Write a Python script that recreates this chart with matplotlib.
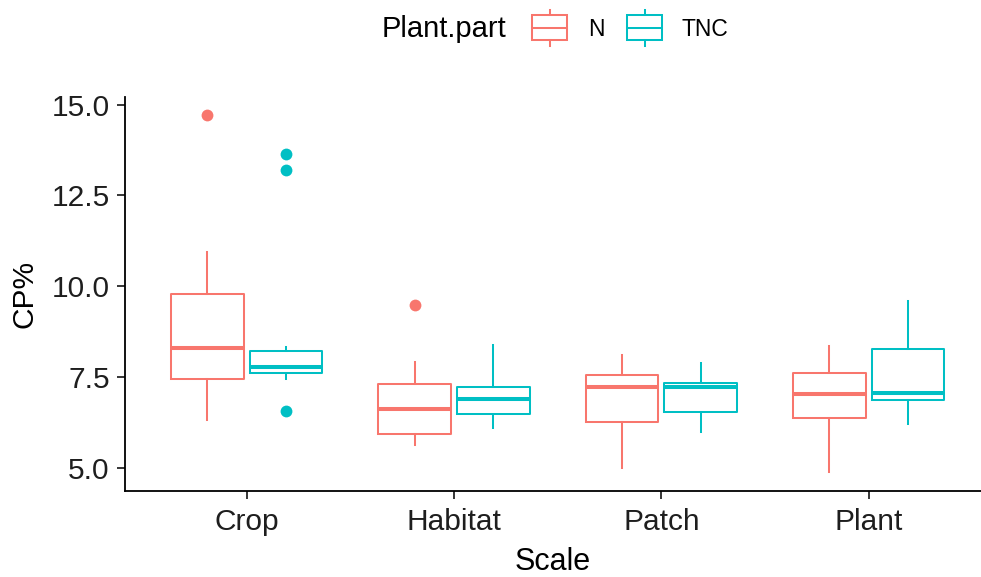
import matplotlib
matplotlib.use('Agg')
import matplotlib.pyplot as plt
from matplotlib.patches import Rectangle
from matplotlib.lines import Line2D

plt.rcParams['font.family'] = ['Liberation Sans', 'DejaVu Sans']

scales = ['Crop', 'Habitat', 'Patch', 'Plant']
parts = ['N', 'TNC']
colors = {'N': '#F8766D', 'TNC': '#00BFC4'}

# five-number summaries: whisker low, q1, median, q3, whisker high
n_stats = [
    [6.30, 7.45, 8.29, 9.79, 10.94],
    [5.63, 5.92, 6.61, 7.30, 7.90],
    [4.98, 6.26, 7.21, 7.56, 8.11],
    [4.88, 6.36, 7.04, 7.61, 8.34],
]
tnc_stats = [
    [7.45, 7.62, 7.76, 8.21, 8.32],
    [6.08, 6.48, 6.88, 7.22, 8.38],
    [5.98, 6.54, 7.21, 7.34, 7.89],
    [6.19, 6.86, 7.05, 8.26, 9.58],
]
n_outliers = [[14.72], [9.49], [], []]
tnc_outliers = [[13.65, 13.21, 6.57], [], [], []]

W, H = 981, 577
fig = plt.figure(figsize=(W / 100, H / 100), dpi=100)
ax = fig.add_axes([125 / W, 86 / H, 1 - 125 / W, 394 / H])

lw = 1.45
offset = 0.19
for part, stats, outs, sign in [('N', n_stats, n_outliers, -1),
                                 ('TNC', tnc_stats, tnc_outliers, 1)]:
    c = colors[part]
    bstats = []
    for s, o in zip(stats, outs):
        bstats.append(dict(whislo=s[0], q1=s[1], med=s[2], q3=s[3],
                           whishi=s[4], fliers=o))
    pos = [i + 1 + sign * offset for i in range(len(scales))]
    ax.bxp(bstats, positions=pos, widths=0.35, showcaps=False,
           boxprops=dict(color=c, linewidth=lw),
           whiskerprops=dict(color=c, linewidth=lw),
           medianprops=dict(color=c, linewidth=lw * 2),
           flierprops=dict(marker='o', markerfacecolor=c, markeredgewidth=0,
                           markersize=8.5))

ax.set_xlim(0.413, 4.542)
ax.set_ylim(4.358, 15.21)
ax.set_xticks(range(1, len(scales) + 1))
ax.set_xticklabels(scales)
ax.set_yticks([5.0, 7.5, 10.0, 12.5, 15.0])
ax.set_yticklabels(['5.0', '7.5', '10.0', '12.5', '15.0'])
for sp in ['top', 'right']:
    ax.spines[sp].set_visible(False)
for sp in ['left', 'bottom']:
    ax.spines[sp].set_linewidth(1.3)
ax.tick_params(axis='both', length=6, width=1.1, labelsize=21.5,
               labelcolor='#1e1e1e')
ax.tick_params(axis='x', pad=6.5)
ax.tick_params(axis='y', pad=5)
ax.set_xlabel('Scale', fontsize=22, labelpad=8)
ax.set_ylabel('CP%', fontsize=21.5, labelpad=9)

# legend drawn at the top, ggplot-style
yc = 1 - 29 / H
fig.text(382 / W, yc, 'Plant.part', fontsize=21, ha='left', va='center')
for part, x0, lx in [('N', 532, 588), ('TNC', 627, 682)]:
    c = colors[part]
    fig.add_artist(Rectangle((x0 / W, 1 - 40 / H), 35 / W, 25 / H,
                             transform=fig.transFigure, fill=False,
                             edgecolor=c, linewidth=lw))
    fig.add_artist(Line2D([x0 / W, (x0 + 35) / W], [1 - 27.5 / H, 1 - 27.5 / H],
                          transform=fig.transFigure, color=c, linewidth=lw))
    xm = (x0 + 17.5) / W
    fig.add_artist(Line2D([xm, xm], [1 - 10 / H, 1 - 15 / H],
                          transform=fig.transFigure, color=c, linewidth=lw))
    fig.add_artist(Line2D([xm, xm], [1 - 40 / H, 1 - 46 / H],
                          transform=fig.transFigure, color=c, linewidth=lw))
    fig.text(lx / W, yc, part, fontsize=16.5, ha='left', va='center')

fig.savefig('out.png', dpi=100)
